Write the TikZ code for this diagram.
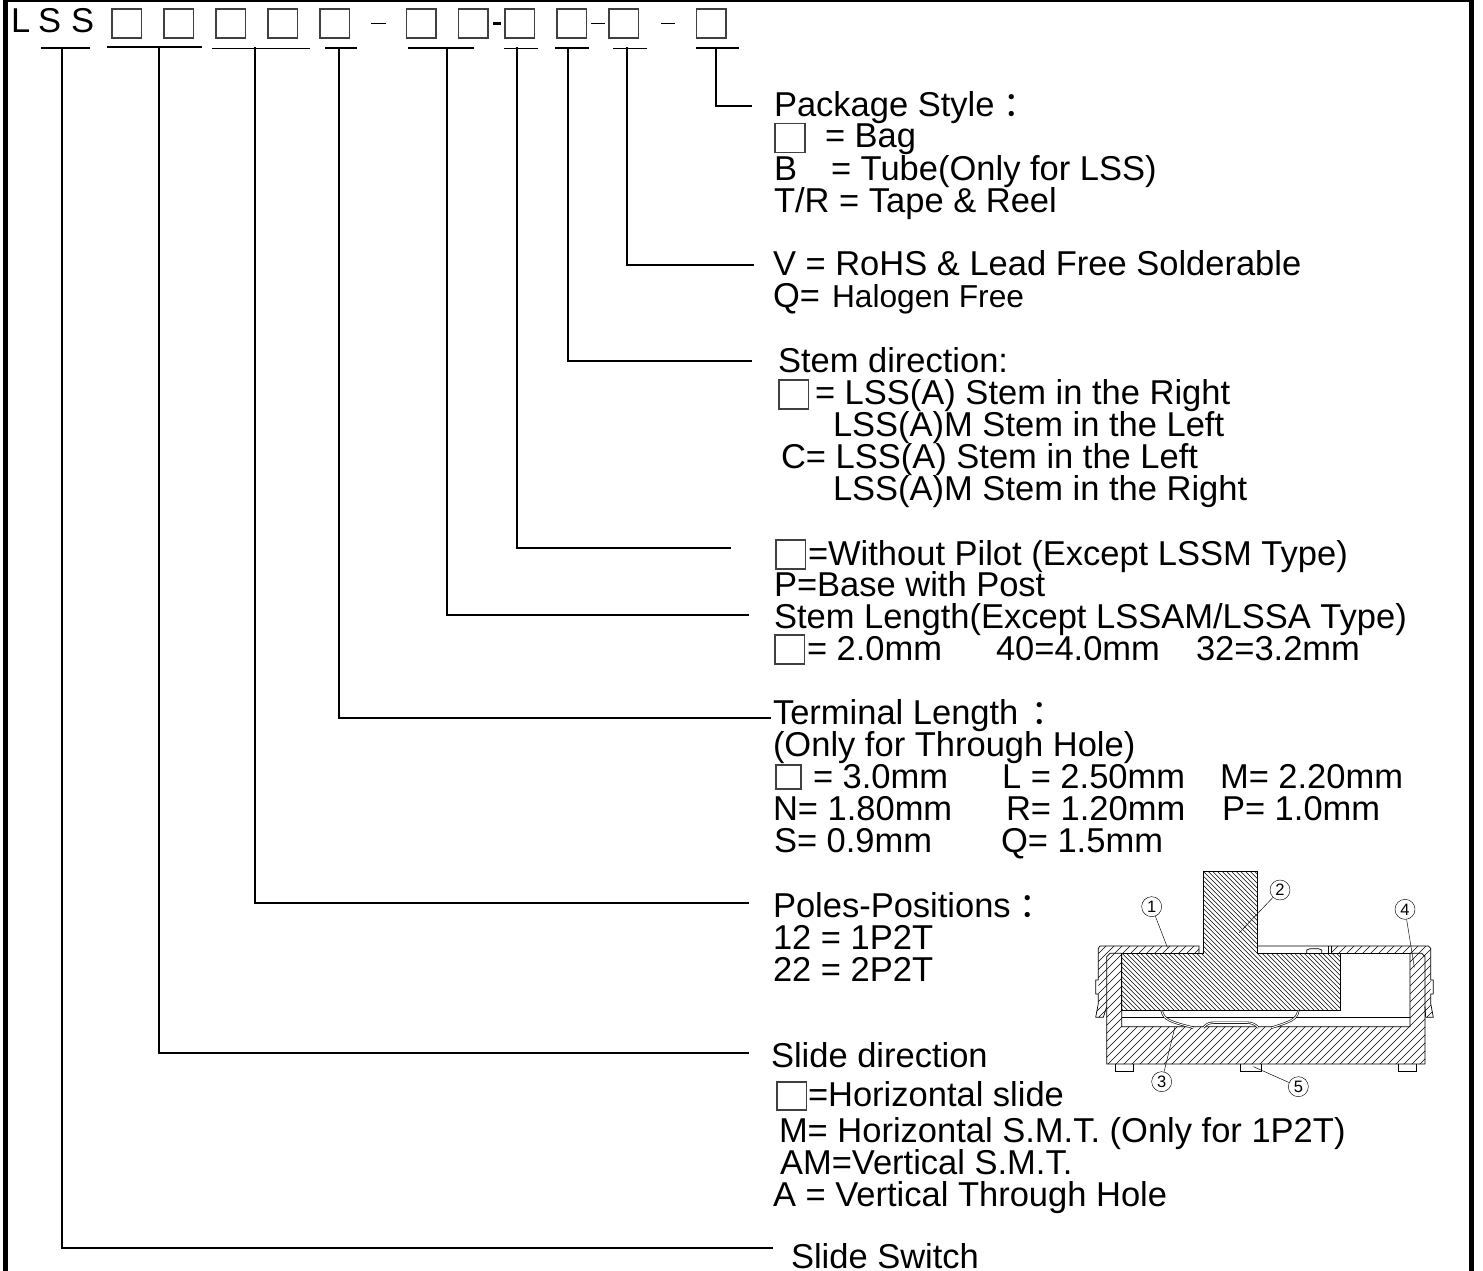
\documentclass[tikz,border=0pt]{standalone}
\usepackage{fontspec}
\setmainfont{Liberation Sans}
\newfontfamily\cjk{Noto Sans CJK TC}
\newcommand{\cln}{\raisebox{-2pt}{\cjk ：}}
\tikzset{
  txt/.style={anchor=base west,inner sep=0pt,outer sep=0pt,font=\fontsize{34.5}{36}\selectfont},
  bx/.style={draw=black!75,line width=1.3pt,inner sep=0pt,outer sep=0pt,minimum width=29.5pt,minimum height=29pt,anchor=north west},
  bar/.style={line width=1.6pt,black},
  lead/.style={line width=1.6pt,black,line cap=rect},
  dsh/.style={line width=1pt,black},
  pl/.style={line width=.7pt,black},
  ht/.style={line width=.5pt,black},
  lf/.style={line width=.45pt,black},
  num/.style={circle,draw=black,line width=.45pt,inner sep=0pt,minimum size=20pt,font=\fontsize{16.5}{16.5}\selectfont},
}
\newcommand{\tl}[4]{\node[txt] (#1) at (#2,#3) {#4};}
\begin{document}
\begin{tikzpicture}[x=1pt,y=-1pt]
\useasboundingbox (0,0) rectangle (1483,1271);
\fill[white] (0,0) rectangle (1483,1271);
% frame
\fill[black] (3,0) rectangle (1474,2.5);
\fill[black] (3,0) rectangle (8,1271);
\fill[black] (1469,0) rectangle (1474,1271);
% code line
\tl{cL}{11}{33}{L}
\tl{cSa}{38}{33}{S}
\tl{cSb}{71}{33}{S}
\node[bx] (q1) at (112,9) {};
\node[bx] (q2) at (164,9) {};
\node[bx] (q3) at (216,9) {};
\node[bx] (q4) at (268,9) {};
\node[bx] (q5) at (320,9) {};
\node[bx] (q6) at (406.5,9) {};
\node[bx] (q7) at (458.5,9) {};
\node[bx] (q8) at (505,9) {};
\node[bx] (q9) at (557,9) {};
\node[bx] (q10) at (609,9) {};
\node[bx] (q11) at (696.5,9) {};
\coordinate (da) at (371,24); \coordinate (db) at (386,24);
\draw[dsh] (da) -- (db);
\coordinate (dc) at (493,24); \coordinate (dd) at (501,24);
\draw[line width=3pt] (dc) -- (dd);
\coordinate (de) at (591,24); \coordinate (df) at (605,24);
\draw[dsh] (de) -- (df);
\coordinate (dg) at (661,24); \coordinate (dh) at (675,24);
\draw[dsh] (dg) -- (dh);
% underbars
\foreach \n/\a/\b/\y in {1/41/90/48,2/107/202/47,3/212/310/48.5,4/325/357/48,5/408/474/48,6/504/538/48.5,7/555/589/48,8/613/647/48.5,9/696/739/48}{
  \coordinate (ba\n) at (\a,\y);
  \coordinate (bb\n) at (\b,\y);
  \draw[bar] (ba\n) -- (bb\n);
}
% leaders
\foreach \n/\x/\y/\e/\t in {1/62/1248/772/48,2/159/1053/748/47,3/255/903/748/48,4/339/718/770/48,5/447/615/748/48,6/517/548/730/48,7/568/361/751/48,8/627/265/753/48,9/716/106/751/48}{
  \coordinate (top\n) at (\x,\t);
  \coordinate (turn\n) at (\x,\y);
  \coordinate (end\n) at (\e,\y);
  \draw[lead] (top\n) -- (turn\n) -- (end\n);
}
% package style
\tl{pa}{774}{117}{Package Style\cln}
\node[bx,minimum width=30pt] (pb) at (775,123.5) {};
\tl{pc}{825}{148}{= Bag}
\tl{pd}{774}{180}{B}
\tl{pe}{831}{180}{= Tube(Only for LSS)}
\tl{pf}{774}{212}{T/R = Tape \& Reel}
\tl{va}{773}{275}{V = RoHS \& Lead Free Solderable}
\tl{vb}{773}{307}{Q=}
\node[txt,font=\fontsize{31.7}{34}\selectfont] (vc) at (832,307) {Halogen Free};
% stem direction
\tl{sa}{778}{372}{Stem direction:}
\node[bx] (sb) at (779,380) {};
\tl{sc}{815}{404}{= LSS(A) Stem in the Right}
\tl{sd}{833}{436}{LSS(A)M Stem in the Left}
\tl{se}{781}{468}{C= LSS(A) Stem in the Left}
\tl{sf}{833}{500}{LSS(A)M Stem in the Right}
% pilot
\node[bx] (wa) at (776,540) {};
\tl{wb}{808}{565}{=Without Pilot (Except LSSM Type)}
\tl{wc}{774}{596}{P=Base with Post}
\tl{wd}{774}{628}{Stem Length(Except LSSAM/LSSA Type)}
\node[bx] (we) at (775,635) {};
\tl{wf}{807}{660}{= 2.0mm}
\tl{wg}{996}{660}{40=4.0mm}
\tl{wh}{1196}{660}{32=3.2mm}
% terminal
\tl{ta}{773}{724}{Terminal Length \kern-6pt\cln}
\tl{tb}{773}{756}{(Only for Through Hole)}
\node[bx,minimum width=25pt,minimum height=24pt] (tc) at (776,765) {};
\tl{td}{813}{788}{= 3.0mm}
\tl{te}{1002}{788}{L = 2.50mm}
\tl{tf}{1220}{788}{M= 2.20mm}
\tl{tg}{773}{820}{N= 1.80mm}
\tl{th}{1006}{820}{R= 1.20mm}
\tl{ti}{1222}{820}{P= 1.0mm}
\tl{tj}{774}{852}{S= 0.9mm}
\tl{tk}{1001}{852}{Q= 1.5mm}
% poles
\tl{oa}{773}{917}{Poles-Positions\cln}
\tl{ob}{773}{949}{12 = 1P2T}
\tl{oc}{773}{981}{22 = 2P2T}
% slide
\tl{la}{771}{1067}{Slide direction}
\node[bx,minimum height=28pt] (lb) at (777,1082) {};
\tl{lc}{808}{1106}{=Horizontal slide}
\tl{ld}{779}{1142}{M= Horizontal S.M.T. (Only for 1P2T)}
\tl{le}{780}{1174}{AM=Vertical S.M.T.}
\tl{lf}{773}{1206}{A = Vertical Through Hole}
\tl{lg}{791}{1268}{Slide Switch}
% part section drawing
\begin{scope}[shift={(1080,860)},x=.33333pt,y=-.33333pt]
  % base
  \begin{scope}
    \clip (80,280) -- (125,280) -- (125,500) -- (990,500) -- (990,280) -- (1035,280) -- (1035,612) -- (80,612) -- cycle;
    \foreach \i in {-700,-676,...,1100} \draw[ht] (\i,700) -- ({\i+700},0);
  \end{scope}
  % cover left and right
  \begin{scope}
    \clip (55,265) -- (60,258) -- (357,258) -- (357,280) -- (90,280) -- (80,290) -- (80,440) -- (70,472) -- (47,472) -- (55,430) -- (55,265) -- cycle;
    \foreach \i in {-700,-676,...,1100} \draw[ht] (\i,700) -- ({\i+700},0);
  \end{scope}
  \begin{scope}
    \clip (755,258) -- (1045,258) -- (1052,265) -- (1052,430) -- (1060,472) -- (1037,472) -- (1035,440) -- (1035,290) -- (1025,280) -- (755,280) -- cycle;
    \foreach \i in {-700,-676,...,1100} \draw[ht] (\i,700) -- ({\i+700},0);
  \end{scope}
  % slider
  \begin{scope}
    \clip (370,33) -- (532,33) -- (532,280) -- (780,280) -- (780,452) -- (125,452) -- (125,280) -- (370,280) -- cycle;
    \foreach \i in {-700,-686,...,800} \draw[ht] (\i,0) -- ({\i+700},700);
  \end{scope}
  % outlines
  \draw[pl] (370,280) -- (370,33) -- (532,33) -- (532,280) -- (780,280) -- (780,452) -- (125,452) -- (125,280) -- cycle;
  \draw[pl] (125,280) -- (125,500) -- (990,500) -- (990,280) -- (1025,280) -- (1035,290) -- (1035,612) -- (80,612) -- (80,290) -- (90,280) -- (125,280);
  \draw[pl] (125,472) -- (990,472);
  \draw[pl] (357,280) -- (357,258) -- (60,258) -- (55,265) -- (55,360) -- (47,360) -- (47,402) -- (55,402) -- (55,430) -- (47,472) -- (70,472) -- (80,440);
  \draw[pl] (532,258) -- (1045,258) -- (1052,265) -- (1052,360) -- (1060,360) -- (1060,402) -- (1052,402) -- (1052,430) -- (1060,472) -- (1037,472) -- (1035,440);
  \draw[pl] (780,280) -- (990,280);
  \draw[pl] (745,258) -- (745,280);
  \draw[pl] (755,258) -- (755,280);
  \draw[pl] (680,280) -- (680,270) -- (690,266) -- (715,266) -- (725,270) -- (725,280);
  % spring
  \draw[line width=.6pt,double=white,double distance=1pt] (245,452) .. controls (252,480) and (270,485) .. (340,503);
  \draw[line width=.6pt,double=white,double distance=1pt] (370,503) .. controls (380,490) and (390,488) .. (405,488) -- (500,488) .. controls (515,488) and (525,492) .. (535,503);
  \draw[line width=.6pt,double=white,double distance=1pt] (575,503) .. controls (630,485) and (650,480) .. (655,452);
  % feet
  \draw[pl] (107,612) -- (107,633) -- (160,633) -- (160,612);
  \draw[pl] (480,612) -- (480,633) -- (545,633) -- (545,612);
  \draw[pl] (955,612) -- (955,633) -- (1008,633) -- (1008,612);
  % callouts
  \node[num] (n1) at (215,140) {1};
  \node[num] (n2) at (600,90) {2};
  \node[num] (n3) at (245,665) {3};
  \node[num] (n4) at (975,148) {4};
  \node[num] (n5) at (655,680) {5};
  \coordinate (t1) at (262,262);
  \coordinate (t2) at (478,218);
  \coordinate (t3) at (285,500);
  \coordinate (t4) at (1003,322);
  \coordinate (t5) at (520,620);
  \draw[lf] (n1) -- (t1);
  \draw[lf] (n2) -- (t2);
  \draw[lf] (n3) -- (t3);
  \draw[lf] (n4) -- (t4);
  \draw[lf] (n5) -- (t5);
\end{scope}
\end{tikzpicture}
\end{document}
